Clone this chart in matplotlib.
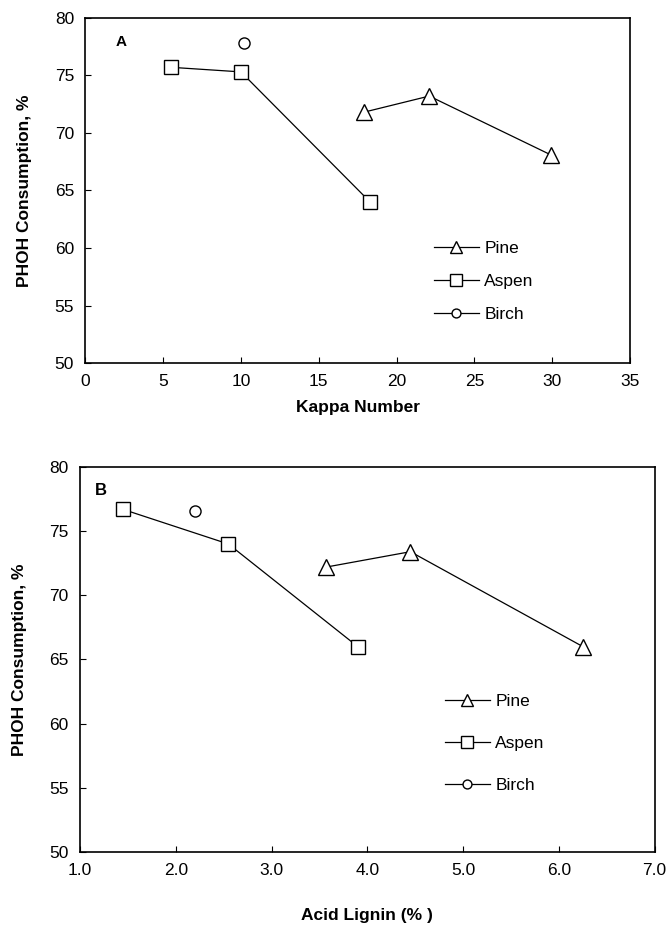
import matplotlib
matplotlib.use("Agg")
import matplotlib.pyplot as plt

plt.rcParams['font.family'] = ['Liberation Sans', 'DejaVu Sans']

# panel A - kappa number
pine_kappa = [17.9, 22.1, 29.9]
pine_kappa_y = [71.8, 73.2, 68.1]
aspen_kappa = [5.5, 10.0, 18.3]
aspen_kappa_y = [75.7, 75.3, 64.0]
birch_kappa = [10.2]
birch_kappa_y = [77.8]

# panel B - acid lignin
pine_lig = [3.57, 4.45, 6.25]
pine_lig_y = [72.2, 73.4, 66.0]
aspen_lig = [1.45, 2.55, 3.9]
aspen_lig_y = [76.7, 74.0, 66.0]
birch_lig = [2.2]
birch_lig_y = [76.6]

fig = plt.figure(figsize=(6.66, 9.36), dpi=100)
axA = fig.add_axes([0.128, 0.612, 0.818, 0.369])
axB = fig.add_axes([0.120, 0.090, 0.863, 0.411])

def draw(ax, px, py, ax_, ay, bx, by, leg_anchor, spacing):
    st = dict(color='black', lw=0.9, mfc='white', mec='black', mew=1.0)
    ax.plot(px, py, marker='^', ms=11, label='Pine', **st)
    ax.plot(ax_, ay, marker='s', ms=10, label='Aspen', **st)
    ax.plot(bx, by, marker='o', ms=8, label='Birch', **st)
    ax.set_ylim(50, 80)
    ax.set_yticks([50, 55, 60, 65, 70, 75, 80])
    ax.tick_params(direction='in', length=4, labelsize=12.5, pad=8)
    ax.set_ylabel('PHOH Consumption, %', fontsize=12.5, fontweight='bold', labelpad=16)
    for s in ax.spines.values():
        s.set_linewidth(1.2)
    leg = ax.legend(loc='upper left', bbox_to_anchor=leg_anchor, frameon=False,
                    fontsize=12.5, handlelength=2.6, handletextpad=0.3, labelspacing=spacing,
                    markerscale=0.8, borderpad=0, borderaxespad=0)
    return leg

draw(axA, pine_kappa, pine_kappa_y, aspen_kappa, aspen_kappa_y, birch_kappa, birch_kappa_y,
     (0.64, 0.355), 1.05)
axA.set_xlim(0, 35)
axA.set_xticks(range(0, 36, 5))
axA.set_xlabel('Kappa Number', fontsize=12.5, fontweight='bold', labelpad=8)
axA.text(0.055, 0.93, 'A', transform=axA.transAxes, fontsize=11, fontweight='bold', va='center')

draw(axB, pine_lig, pine_lig_y, aspen_lig, aspen_lig_y, birch_lig, birch_lig_y,
     (0.635, 0.41), 1.55)
axB.set_xlim(1.0, 7.0)
axB.set_xticks([1, 2, 3, 4, 5, 6, 7])
axB.set_xticklabels(['1.0', '2.0', '3.0', '4.0', '5.0', '6.0', '7.0'])
axB.set_xlabel('Acid Lignin (% )', fontsize=12.5, fontweight='bold', labelpad=22)
axB.text(0.026, 0.94, 'B', transform=axB.transAxes, fontsize=12, fontweight='bold', va='center')

fig.savefig('out.png', dpi=100)
